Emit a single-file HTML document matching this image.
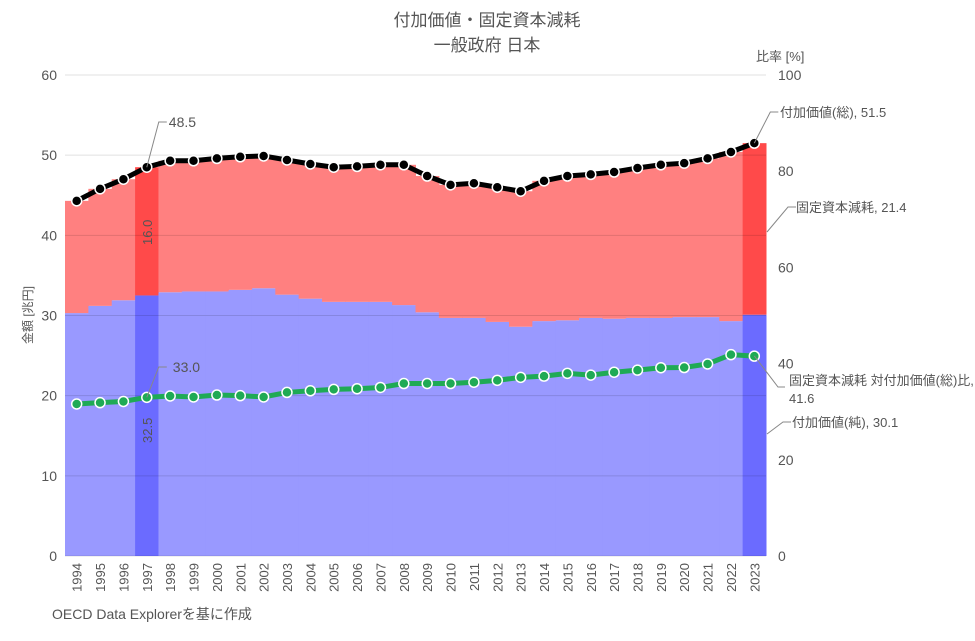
<!DOCTYPE html>
<html><head><meta charset="utf-8"><style>
html,body{margin:0;padding:0;background:#fff;}
svg text{font-family:"Liberation Sans","Noto Sans CJK JP",sans-serif;fill:#555;}
</style></head><body>
<svg id="s" width="975" height="636" xmlns="http://www.w3.org/2000/svg"></svg>
<script>
const gross=[44.3,45.8,47.0,48.5,49.3,49.3,49.6,49.8,49.9,49.4,48.9,48.5,48.6,48.8,48.8,47.4,46.3,46.5,46.0,45.5,46.8,47.4,47.6,47.9,48.4,48.8,49.0,49.6,50.4,51.5];
const net=[30.3,31.2,31.9,32.5,32.9,33.0,33.0,33.2,33.4,32.6,32.1,31.7,31.7,31.7,31.3,30.4,29.7,29.7,29.2,28.6,29.3,29.4,29.7,29.6,29.7,29.7,29.8,29.8,29.3,30.1];
const L=65,R=766,T=75,B=556,n=30,w=(R-L)/n;
const yl=v=>B-v*(B-T)/60, yr=v=>B-v*(B-T)/100, xc=i=>L+w*(i+0.5);
let h='';
for(let i=0;i<n;i++){
 const x=L+w*i,hl=(i==3||i==29);
 h+=`<rect x="${x}" y="${yl(net[i])}" width="${w+0.5}" height="${B-yl(net[i])}" fill="${hl?'#6b6bff':'#9999ff'}"/>`;
 h+=`<rect x="${x}" y="${yl(gross[i])}" width="${w+0.5}" height="${yl(net[i])-yl(gross[i])}" fill="${hl?'#ff4a4a':'#ff8080'}"/>`;
}
for(let v=0;v<=60;v+=10){const y=yl(v);
 h+=`<line x1="${L}" x2="${R}" y1="${y}" y2="${y}" stroke="rgba(0,0,0,0.12)" stroke-width="1"/>`;
 h+=`<text x="57" y="${y+5}" font-size="14" text-anchor="end">${v}</text>`;}
for(let v=0;v<=100;v+=20){h+=`<text x="778" y="${yr(v)+5}" font-size="14">${v}</text>`;}
let pb='',pg='',mb='',mg='';
for(let i=0;i<n;i++){const x=xc(i),y=yl(gross[i]),r=(gross[i]-net[i])/gross[i]*100,y2=yr(r);
 pb+=(i?'L':'M')+x+','+y;pg+=(i?'L':'M')+x+','+y2;
 mb+=`<circle cx="${x}" cy="${y}" r="5" fill="#000" stroke="#fff" stroke-width="1.5"/>`;
 mg+=`<circle cx="${x}" cy="${y2}" r="5" fill="#1faa55" stroke="#fff" stroke-width="1.5"/>`;
 h+=`<text transform="translate(${x+5},563) rotate(-90)" font-size="13" text-anchor="end">${1994+i}</text>`;}
h+=`<path d="${pb}" fill="none" stroke="#000" stroke-width="5"/>`+mb;
h+=`<path d="${pg}" fill="none" stroke="#1faa55" stroke-width="5"/>`+mg;
const x97=xc(3),x23=xc(29);
h+=`<polyline points="${x97},${yl(48.5)} ${x97+12},122 ${x97+20},122" fill="none" stroke="#888"/><text x="${x97+22}" y="127" font-size="14">48.5</text>`;
h+=`<text transform="translate(${x97+5},245) rotate(-90)" font-size="13" fill="#444">16.0</text>`;
h+=`<polyline points="${x97},${yr(33)} ${x97+12},367 ${x97+20},367" fill="none" stroke="#888"/><text x="${x97+26}" y="372" font-size="14">33.0</text>`;
h+=`<text transform="translate(${x97+5},443) rotate(-90)" font-size="13" fill="#444">32.5</text>`;
h+=`<polyline points="${x23},${yl(51.5)} ${x23+16},112 ${x23+24},112" fill="none" stroke="#888"/><text x="780" y="117" font-size="13">付加価値(総), 51.5</text>`;
h+=`<polyline points="767,232 788,207 796,207" fill="none" stroke="#888"/><text x="796" y="212" font-size="13">固定資本減耗, 21.4</text>`;
h+=`<polyline points="${x23},${yr(41.6)} 778,387 785,387" fill="none" stroke="#888"/><text x="789" y="385" font-size="13">固定資本減耗 対付加価値(総)比,</text><text x="789" y="403" font-size="13">41.6</text>`;
h+=`<polyline points="767,434 783,422 791,422" fill="none" stroke="#888"/><text x="792" y="427" font-size="13">付加価値(純), 30.1</text>`;
h+=`<text x="487" y="26" font-size="17" text-anchor="middle" fill="#444">付加価値・固定資本減耗</text><text x="487" y="51" font-size="17" text-anchor="middle" fill="#444">一般政府 日本</text>`;
h+=`<text x="756" y="61" font-size="13">比率 [%]</text>`;
h+=`<text transform="translate(32,315) rotate(-90)" font-size="12" text-anchor="middle">金額 [兆円]</text>`;
h+=`<text x="52" y="619" font-size="14" fill="#333">OECD Data Explorerを基に作成</text>`;
document.getElementById('s').innerHTML=h;
</script>
</body></html>
